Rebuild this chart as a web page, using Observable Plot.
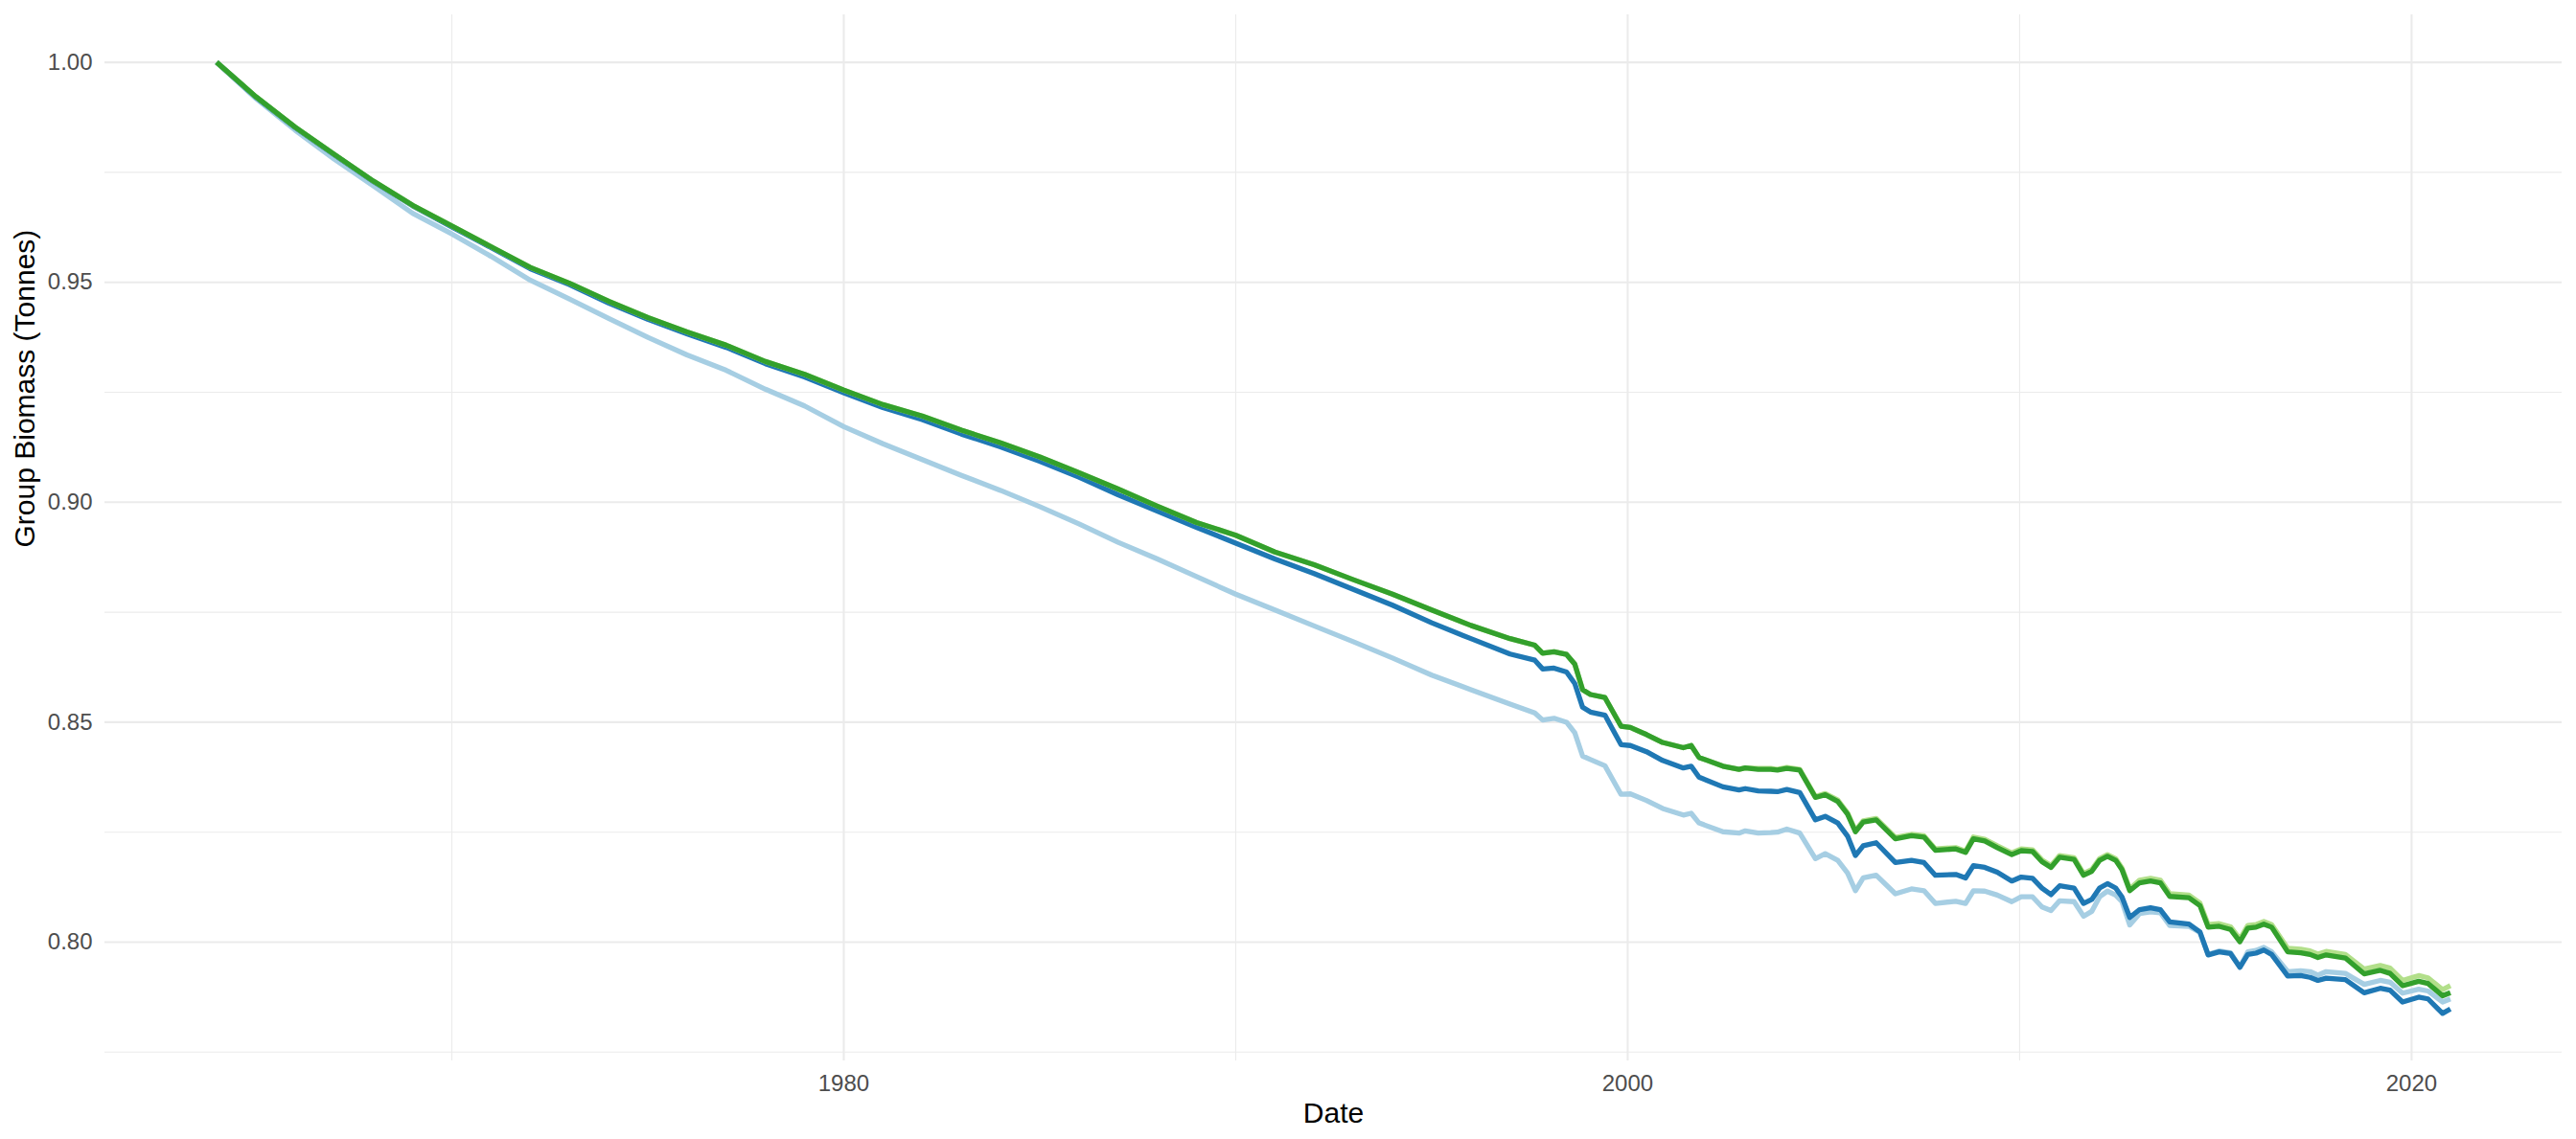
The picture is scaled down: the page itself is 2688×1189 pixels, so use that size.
<!DOCTYPE html>
<html>
<head>
<meta charset="utf-8">
<script src="https://cdn.jsdelivr.net/npm/d3@7"></script>
<script src="https://cdn.jsdelivr.net/npm/@observablehq/plot@0.6"></script>
<style>
html, body { margin: 0; padding: 0; background: #ffffff; }
</style>
</head>
<body>
<div id="chart"></div>
<script>
// Decimal years of each observation
const dates = [
  1964, 1965, 1966, 1967, 1968, 1969, 1970, 1971, 1972, 1973, 1974, 1975, 1976, 1977, 1978, 1979,
  1980, 1981, 1982, 1983, 1984, 1985, 1986, 1987, 1988, 1989, 1990, 1991, 1992, 1993, 1994, 1995,
  1996, 1997,
  1997.63, 1997.83, 1998.12, 1998.44, 1998.65, 1998.85, 1999.05, 1999.42, 1999.83, 2000.07, 2000.48,
  2000.89, 2001.42, 2001.62, 2001.82, 2002.43, 2002.84, 2003.00, 2003.33, 2003.65, 2003.82, 2004.06,
  2004.39, 2004.79, 2005.04, 2005.36, 2005.61, 2005.81, 2006.01, 2006.34, 2006.83, 2007.24, 2007.56,
  2007.85, 2008.37, 2008.62,
  2008.82, 2009.11, 2009.43, 2009.80, 2010.04, 2010.33, 2010.57, 2010.80, 2011.02, 2011.39, 2011.63,
  2011.84, 2012.04, 2012.24, 2012.45, 2012.61, 2012.81, 2013.06, 2013.34, 2013.59, 2013.83, 2014.32,
  2014.60, 2014.81, 2015.09, 2015.38, 2015.62, 2015.82, 2016.03, 2016.23, 2016.43, 2016.84, 2017.17,
  2017.41, 2017.61, 2017.82, 2018.31, 2018.79, 2019.20, 2019.45, 2019.77, 2020.18, 2020.42, 2020.79,
  2020.99
];

const seriesNames = ["Group 1", "Group 2", "Group 3", "Group 4"];
const seriesColors = ["#A6CEE3", "#1F78B4", "#B2DF8A", "#33A02C"];

const lightBlue = [
  1.0000, 0.9918, 0.9846, 0.9780, 0.9719, 0.9657, 0.9610, 0.9559, 0.9505, 0.9462, 0.9418, 0.9375,
  0.9335, 0.9300, 0.9257, 0.9219, 0.9172, 0.9133, 0.9097, 0.9061, 0.9027, 0.8990, 0.8951, 0.8909,
  0.8871, 0.8831, 0.8791, 0.8755, 0.8719, 0.8683, 0.8646, 0.8607, 0.8574, 0.8541,
  0.8521, 0.8505, 0.8509, 0.8500, 0.8476, 0.8423, 0.8415, 0.8401, 0.8336, 0.8337, 0.8322, 0.8304,
  0.8289, 0.8293, 0.8271, 0.8251, 0.8248, 0.8253, 0.8248, 0.8249, 0.8250, 0.8257, 0.8248, 0.8190,
  0.8201, 0.8186, 0.8157, 0.8117, 0.8146, 0.8152, 0.8110, 0.8121, 0.8117, 0.8088, 0.8093, 0.8088,
  0.8117, 0.8116, 0.8107, 0.8092, 0.8103, 0.8103, 0.8080, 0.8072, 0.8094, 0.8092, 0.8059, 0.8070,
  0.8103, 0.8116, 0.8107, 0.8092, 0.8039, 0.8065, 0.8069, 0.8067, 0.8038, 0.8036, 0.8022, 0.7972,
  0.7980, 0.7976, 0.7943, 0.7978, 0.7981, 0.7988, 0.7978, 0.7933, 0.7935, 0.7933, 0.7925, 0.7933,
  0.7929, 0.7904, 0.7913, 0.7909, 0.7884, 0.7893, 0.7889, 0.7864, 0.7871
];

const darkBlue = [
  1.0000, 0.9921, 0.9852, 0.9790, 0.9729, 0.9674, 0.9626, 0.9579, 0.9531, 0.9495, 0.9453, 0.9416,
  0.9383, 0.9352, 0.9315, 0.9285, 0.9249, 0.9215, 0.9188, 0.9155, 0.9126, 0.9093, 0.9057, 0.9017,
  0.8980, 0.8943, 0.8907, 0.8871, 0.8838, 0.8802, 0.8766, 0.8726, 0.8690, 0.8655,
  0.8641, 0.8621, 0.8623, 0.8614, 0.8588, 0.8534, 0.8523, 0.8516, 0.8449, 0.8447, 0.8433, 0.8413,
  0.8396, 0.8400, 0.8375, 0.8353, 0.8346, 0.8349, 0.8344, 0.8343, 0.8342, 0.8347, 0.8340, 0.8278,
  0.8286, 0.8271, 0.8241, 0.8197, 0.8219, 0.8226, 0.8181, 0.8186, 0.8181, 0.8152, 0.8154, 0.8146,
  0.8174, 0.8170, 0.8159, 0.8139, 0.8148, 0.8145, 0.8123, 0.8108, 0.8128, 0.8123, 0.8088, 0.8097,
  0.8123, 0.8133, 0.8123, 0.8103, 0.8056, 0.8074, 0.8078, 0.8074, 0.8046, 0.8041, 0.8023, 0.7971,
  0.7978, 0.7974, 0.7943, 0.7972, 0.7975, 0.7982, 0.7972, 0.7923, 0.7924, 0.7920, 0.7913, 0.7918,
  0.7915, 0.7885, 0.7895, 0.7891, 0.7864, 0.7875, 0.7871, 0.7838, 0.7848
];

const lightGreen = [
  1.0000, 0.9922, 0.9853, 0.9791, 0.9730, 0.9675, 0.9628, 0.9581, 0.9534, 0.9498, 0.9457, 0.9420,
  0.9387, 0.9357, 0.9320, 0.9291, 0.9255, 0.9222, 0.9196, 0.9164, 0.9135, 0.9103, 0.9067, 0.9030,
  0.8991, 0.8954, 0.8925, 0.8887, 0.8858, 0.8824, 0.8791, 0.8755, 0.8720, 0.8690,
  0.8675, 0.8657, 0.8660, 0.8654, 0.8632, 0.8574, 0.8563, 0.8556, 0.8491, 0.8488, 0.8472, 0.8454,
  0.8442, 0.8447, 0.8420, 0.8400, 0.8393, 0.8396, 0.8395, 0.8395, 0.8393, 0.8397, 0.8393, 0.8331,
  0.8338, 0.8323, 0.8294, 0.8254, 0.8276, 0.8281, 0.8238, 0.8245, 0.8242, 0.8212, 0.8215, 0.8207,
  0.8239, 0.8234, 0.8219, 0.8203, 0.8212, 0.8210, 0.8187, 0.8174, 0.8197, 0.8192, 0.8156, 0.8165,
  0.8190, 0.8199, 0.8190, 0.8169, 0.8121, 0.8141, 0.8145, 0.8141, 0.8110, 0.8107, 0.8089, 0.8040,
  0.8042, 0.8035, 0.8007, 0.8038, 0.8040, 0.8047, 0.8040, 0.7986, 0.7984, 0.7980, 0.7973, 0.7979,
  0.7972, 0.7939, 0.7947, 0.7941, 0.7913, 0.7924, 0.7919, 0.7892, 0.7901
];

const darkGreen = [
  1.0000, 0.9922, 0.9853, 0.9791, 0.9730, 0.9675, 0.9628, 0.9581, 0.9534, 0.9498, 0.9457, 0.9420,
  0.9387, 0.9357, 0.9320, 0.9291, 0.9255, 0.9222, 0.9196, 0.9164, 0.9135, 0.9103, 0.9067, 0.9030,
  0.8991, 0.8954, 0.8925, 0.8887, 0.8858, 0.8824, 0.8791, 0.8755, 0.8720, 0.8690,
  0.8675, 0.8657, 0.8660, 0.8654, 0.8632, 0.8574, 0.8563, 0.8556, 0.8491, 0.8488, 0.8472, 0.8454,
  0.8442, 0.8447, 0.8420, 0.8400, 0.8393, 0.8396, 0.8393, 0.8393, 0.8391, 0.8395, 0.8391, 0.8329,
  0.8335, 0.8320, 0.8291, 0.8251, 0.8273, 0.8278, 0.8235, 0.8242, 0.8239, 0.8209, 0.8212, 0.8204,
  0.8235, 0.8230, 0.8215, 0.8199, 0.8208, 0.8206, 0.8183, 0.8170, 0.8193, 0.8188, 0.8152, 0.8161,
  0.8186, 0.8195, 0.8186, 0.8165, 0.8117, 0.8135, 0.8139, 0.8135, 0.8104, 0.8101, 0.8083, 0.8034,
  0.8036, 0.8029, 0.8001, 0.8032, 0.8034, 0.8041, 0.8034, 0.7978, 0.7976, 0.7972, 0.7965, 0.7971,
  0.7964, 0.7928, 0.7936, 0.7929, 0.7901, 0.7911, 0.7906, 0.7878, 0.7885
];

const yTicks = [0.80, 0.85, 0.90, 0.95, 1.00];
const yMinorTicks = [0.775, 0.825, 0.875, 0.925, 0.975];
const xTicks = [1980, 2000, 2020];
const xMinorTicks = [1970, 1990, 2010];

const xLabel = "Date";
const yLabel = "Group Biomass (Tonnes)";

const seriesValues = [lightBlue, darkBlue, lightGreen, darkGreen];
const rows = seriesValues.flatMap((arr, i) =>
  arr.map((v, j) => ({ date: dates[j], value: v, group: seriesNames[i] }))
);

const chart = Plot.plot({
  width: 2688,
  height: 1189,
  marginLeft: 109,
  marginRight: 15,
  marginTop: 15,
  marginBottom: 82,
  style: { fontFamily: "'Liberation Sans', Arial, Helvetica, sans-serif", fontSize: "24px", background: "#ffffff" },
  x: { domain: [1961.15, 2023.84] },
  y: { domain: [0.7730, 1.0108] },
  color: { domain: seriesNames, range: seriesColors },
  marks: [
    Plot.ruleY(yMinorTicks, { stroke: "#EBEBEB", strokeWidth: 1.1 }),
    Plot.ruleX(xMinorTicks, { stroke: "#EBEBEB", strokeWidth: 1.1 }),
    Plot.ruleY(yTicks, { stroke: "#EBEBEB", strokeWidth: 2.1 }),
    Plot.ruleX(xTicks, { stroke: "#EBEBEB", strokeWidth: 2.1 }),
    Plot.line(rows, {
      x: "date", y: "value", z: "group", stroke: "group",
      strokeWidth: 5.3, strokeLinejoin: "round", strokeLinecap: "butt"
    }),
    Plot.axisX({
      ticks: xTicks, tickFormat: d => String(d), tickSize: 0, tickPadding: 14,
      fontSize: 24, fill: "#4D4D4D", label: null
    }),
    Plot.axisY({
      ticks: yTicks, tickFormat: d3.format(".2f"), tickSize: 0, tickPadding: 13,
      fontSize: 24, fill: "#4D4D4D", label: null
    }),
    Plot.text([xLabel], {
      text: d => d, frameAnchor: "bottom", dy: 55, lineAnchor: "middle",
      fontSize: 30, fill: "#000000"
    }),
    Plot.text([yLabel], {
      text: d => d, frameAnchor: "left", dx: -83, dy: 10, rotate: -90,
      fontSize: 30, fill: "#000000"
    })
  ]
});

document.getElementById("chart").appendChild(chart);
</script>
</body>
</html>
